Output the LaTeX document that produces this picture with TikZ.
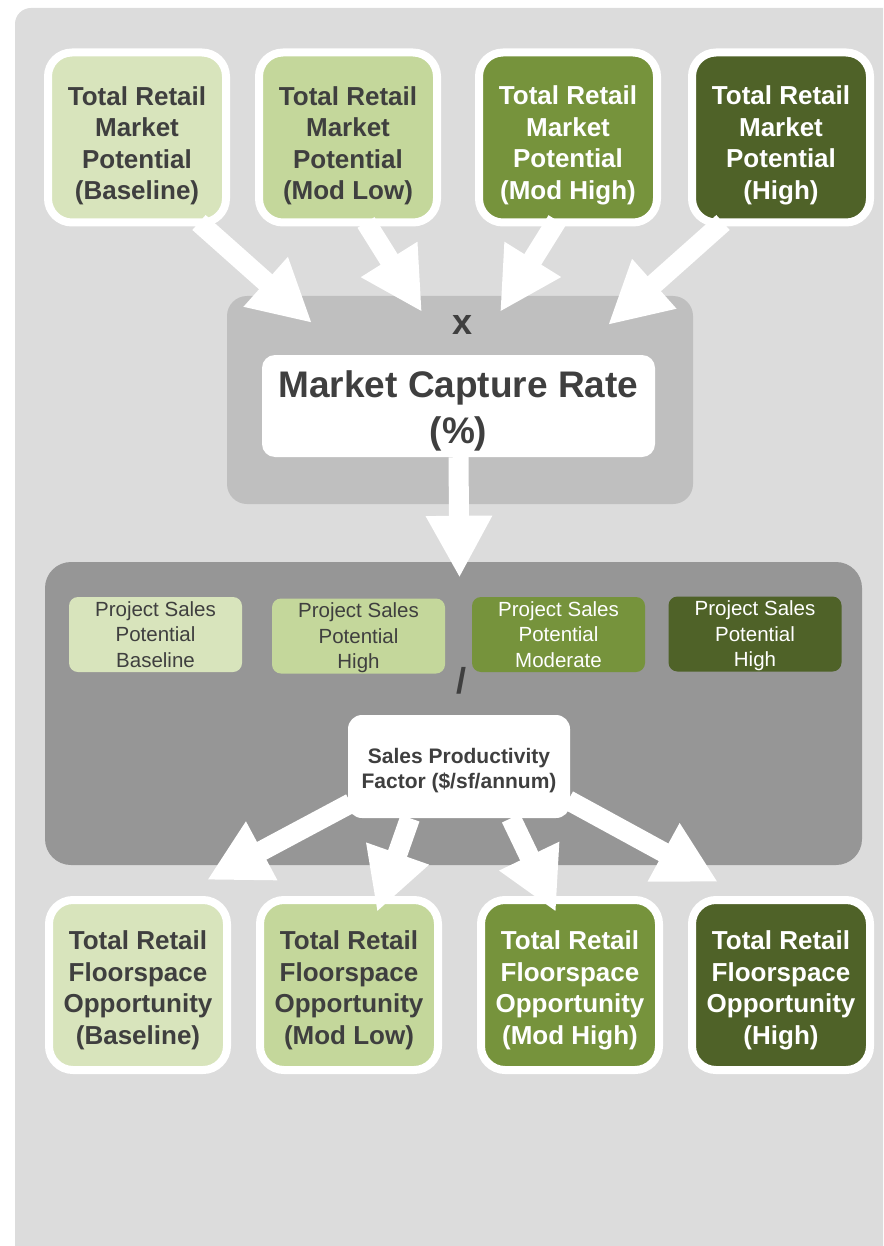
\documentclass[tikz,border=0pt]{standalone}
\usepackage{fontspec}
\setmainfont{Liberation Sans}
\usepackage{xcolor}
\usepackage{tikz}
\usetikzlibrary{positioning}
\usetikzlibrary{arrows.meta}
\usetikzlibrary{calc}

\definecolor{baselinegreen}{HTML}{D8E4BC}
\definecolor{modlowgreen}{HTML}{C4D79B}
\definecolor{modhighgreen}{HTML}{76933C}
\definecolor{highgreen}{HTML}{4F6228}
\definecolor{textgray}{HTML}{3F3F3F}
\definecolor{pagegray}{HTML}{DCDCDC}
\definecolor{capgray}{HTML}{BFBFBF}
\definecolor{lowgray}{HTML}{969696}

\begin{document}
\begin{tikzpicture}[x=1pt, y=-1pt,
            potential/.style={draw=white, line width=8pt, rounded corners=24pt, minimum width=178pt,
            minimum height=170pt, inner sep=0pt, align=center, font=\fontsize{26}{31.5}\selectfont\bfseries},
            salesbox/.style={rounded corners=9pt, minimum width=173pt, minimum height=75pt, inner sep=0pt,
            text depth=0pt, align=center, font=\fontsize{20.5}{25.5}\selectfont},
            panel/.style={rounded corners=20pt, inner sep=0pt},
            factor/.style={fill=white, rounded corners=14pt, inner sep=0pt, align=center, text=textgray},
            sign/.style={inner sep=0pt, text=textgray, font=\fontsize{36}{36}\selectfont\bfseries},
            bigarrow/.style={draw=white, line width=20pt, -{Triangle[width=62pt,length=62pt]}}]
            \useasboundingbox (0,0) rectangle (883,1246);
            \clip (0,0) rectangle (883,1246);
            \fill[pagegray, rounded corners=16pt] (15,8) rectangle (930,1300);

            \node[panel, fill=capgray, minimum width=466pt, minimum height=208pt] (cap) at (460,400) {};
            \node[panel, fill=lowgray, minimum width=817pt, minimum height=303pt, rounded corners=26pt] (low) at (453.5,713.5) {};

            \node[potential, text height=129.5pt, fill=baselinegreen, text=textgray] (tm1) at (137,137.5) {Total Retail\\Market\\Potential\\(Baseline)};
            \node[potential, text height=129.5pt, fill=modlowgreen, text=textgray] (tm2) at (348,137.5) {Total Retail\\Market\\Potential\\(Mod Low)};
            \node[potential, text height=129.5pt, fill=modhighgreen, text=white] (tm3) at (568,137.5) {Total Retail\\Market\\Potential\\(Mod High)};
            \node[potential, text height=129.5pt, fill=highgreen, text=white] (tm4) at (781,137.5) {Total Retail\\Market\\Potential\\(High)};

            \node[sign] (times) at (463,325) {x};
            \node[factor, text height=83pt, minimum width=393pt, minimum height=102pt, rounded corners=13pt,
            font=\fontsize{37}{46}\selectfont\bfseries] (mcr) at (458.5,406) {Market Capture Rate\\(\%)};

            \node[salesbox, fill=baselinegreen, text=textgray] (ps1) at (155.5,634.5) {Project Sales\\Potential\\Baseline};
            \node[salesbox, fill=modlowgreen, text=textgray] (ps2) at (358.5,636) {Project Sales\\Potential\\High};
            \node[salesbox, fill=modhighgreen, text=white] (ps3) at (558.5,634.5) {Project Sales\\Potential\\Moderate};
            \node[salesbox, fill=highgreen, text=white] (ps4) at (755,634) {Project Sales\\Potential\\High};

            \node[sign] (divide) at (461,681) {/};
            \node[factor, text height=48.3pt, minimum width=222pt, minimum height=103pt,
            font=\fontsize{21}{25}\selectfont\bfseries] (spf) at (459,766.5) {Sales Productivity\\Factor (\$/sf/annum)};

            \node[potential, text height=123.5pt, fill=baselinegreen, text=textgray] (fo1) at (138,985) {Total Retail\\Floorspace\\Opportunity\\(Baseline)};
            \node[potential, text height=123.5pt, fill=modlowgreen, text=textgray] (fo2) at (349,985) {Total Retail\\Floorspace\\Opportunity\\(Mod Low)};
            \node[potential, text height=123.5pt, fill=modhighgreen, text=white] (fo3) at (570,985) {Total Retail\\Floorspace\\Opportunity\\(Mod High)};
            \node[potential, text height=123.5pt, fill=highgreen, text=white] (fo4) at (781,985) {Total Retail\\Floorspace\\Opportunity\\(High)};

            \draw[bigarrow] ($(tm1)+(62,85)$) -- ($(cap)+(-148,-77)$);
            \draw[bigarrow] ($(tm2)+(18,85)$) -- ($(cap)+(-38,-88)$);
            \draw[bigarrow] ($(tm3)+(-11,83)$) -- ($(cap)+(40,-88)$);
            \draw[bigarrow] ($(tm4)+(-58,85)$) -- ($(cap)+(148,-75)$);
            \draw[bigarrow] (mcr.south) -- ($(low.north)+(6,16)$);
            \draw[bigarrow] ($(spf.south west)+(3,-15)$) -- ($(fo1)+(69,-105)$);
            \draw[bigarrow] ($(spf.south)+(-49,0)$) -- ($(fo2)+(28,-73)$);
            \draw[bigarrow] ($(spf.south)+(52,0)$) -- ($(fo3)+(-14,-73)$);
            \draw[bigarrow] ($(spf.south east)+(-2,-18)$) -- ($(fo4)+(-63,-103)$);
        \end{tikzpicture}
\end{document}
